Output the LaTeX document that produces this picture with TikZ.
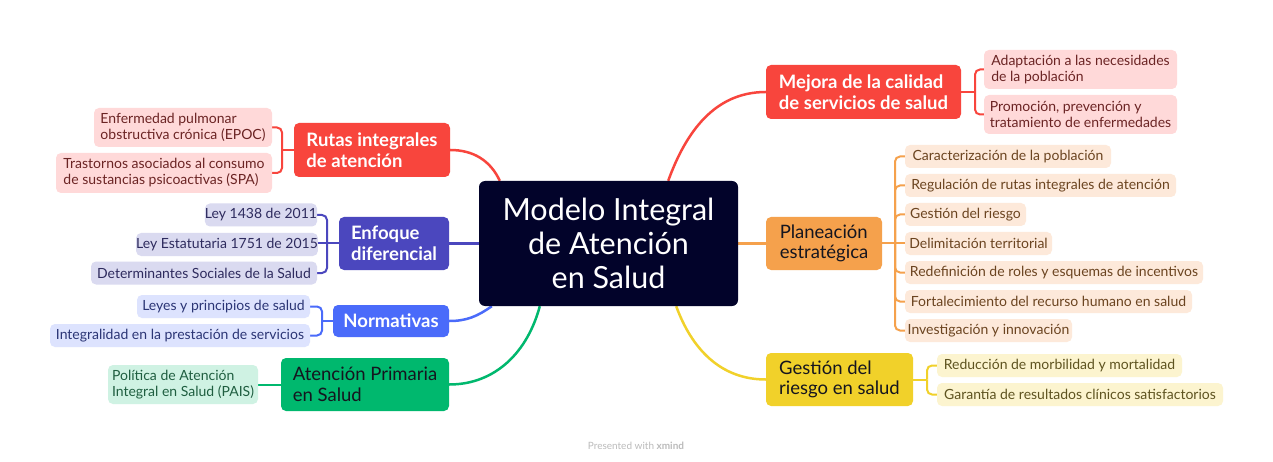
\documentclass[tikz,border=0pt]{standalone}
\usepackage{fontspec}
\setmainfont{Lato}
\pgfdeclarelayer{background}
\pgfsetlayers{background,main}
\definecolor{cnavy}{HTML}{02032A}
\definecolor{cred}{HTML}{F8453D}
\definecolor{cindigo}{HTML}{4B47BE}
\definecolor{cblue}{HTML}{4A6BFA}
\definecolor{cgreen}{HTML}{00B86E}
\definecolor{corange}{HTML}{F5A14C}
\definecolor{cyellow}{HTML}{F1D12A}
\definecolor{fred}{HTML}{FFD9D9}
\definecolor{find}{HTML}{DADAF0}
\definecolor{fblue}{HTML}{DDE3FE}
\definecolor{fgreen}{HTML}{CFF2E3}
\definecolor{forange}{HTML}{FDE9DA}
\definecolor{fyellow}{HTML}{FCF4CF}
\definecolor{tred}{HTML}{6B2424}
\definecolor{tind}{HTML}{2E2B5E}
\definecolor{tblue}{HTML}{2B3575}
\definecolor{tgreen}{HTML}{1F5E40}
\definecolor{torange}{HTML}{6B4420}
\definecolor{tyellow}{HTML}{5E5320}
\definecolor{tdark}{HTML}{15151F}
\definecolor{cfoot}{HTML}{BBBBBB}
\begin{document}
\begin{tikzpicture}[x=1pt,y=1pt,
  central/.style={fill=cnavy, rounded corners=6pt, text=white, align=center,
    minimum width=259pt, minimum height=125pt, inner sep=0pt,
    font=\fontsize{30.5}{34}\selectfont},
  topic/.style={rounded corners=5pt, inner sep=0pt, align=left,
    font=\fontsize{18.5}{20.5}\selectfont},
  topicw/.style={topic, text=white, font=\fontsize{18.5}{20.5}\selectfont\bfseries},
  sub/.style={rounded corners=5pt, inner sep=0pt, align=left,
    font=\fontsize{14}{16}\selectfont},
  conn/.style={line width=2.5pt},
  br/.style={line width=2pt},
]
\useasboundingbox (0,0) rectangle (1273,-462);

% central
\node[central] (c) at (608.5,-243.5) {Modelo Integral\\de Atención\\en Salud};

% main topics
\node[topicw, fill=cred, minimum width=156pt, minimum height=54pt] (rutas) at (372,-150) {Rutas integrales\\de atención};
\node[topicw, fill=cindigo, minimum width=110pt, minimum height=53pt] (enfoque) at (394,-243.5) {Enfoque\\diferencial};
\node[topicw, fill=cblue, minimum width=116pt, minimum height=32pt] (norm) at (391,-321) {Normativas};
\node[topic, fill=cgreen, text=tdark, minimum width=168pt, minimum height=53pt] (aps) at (365,-384.5) {Atención Primaria\\en Salud};
\node[topicw, fill=cred, minimum width=195pt, minimum height=54pt] (mejora) at (863.5,-92) {Mejora de la calidad\\de servicios de salud};
\node[topic, fill=corange, text=tdark, minimum width=116pt, minimum height=53pt] (plan) at (824,-243.5) {Planeación\\estratégica};
\node[topic, fill=cyellow, text=tdark, minimum width=147pt, minimum height=53pt] (gestion) at (839.5,-379.5) {Gestión del\\riesgo en salud};

% left subtopics
\node[sub, fill=fred, text=tred, minimum width=178pt, minimum height=39pt] (epoc) at (183,-127.5) {Enfermedad pulmonar\\obstructiva crónica (EPOC)};
\node[sub, fill=fred, text=tred, minimum width=216pt, minimum height=40pt] (spa) at (164,-173) {Trastornos asociados al consumo\\de sustancias psicoactivas (SPA)};
\node[sub, fill=find, text=tind, minimum width=112pt, minimum height=23pt] (l1438) at (261,-215) {Ley 1438 de 2011};
\node[sub, fill=find, text=tind, minimum width=180pt, minimum height=23pt] (l1751) at (227,-244.5) {Ley Estatutaria 1751 de 2015};
\node[sub, fill=find, text=tind, minimum width=226pt, minimum height=23pt] (dss) at (204,-273) {Determinantes Sociales de la Salud};
\node[sub, fill=fblue, text=tblue, minimum width=173pt, minimum height=23pt] (leyes) at (223.5,-306.5) {Leyes y principios de salud};
\node[sub, fill=fblue, text=tblue, minimum width=260pt, minimum height=23pt] (integ) at (180,-335.5) {Integralidad en la prestación de servicios};
\node[sub, fill=fgreen, text=tgreen, minimum width=150pt, minimum height=39pt] (pais) at (183,-384.5) {Política de Atención\\Integral en Salud (PAIS)};

% right subtopics
\node[sub, fill=fred, text=tred, minimum width=193pt, minimum height=39pt] (adapt) at (1080.5,-69.5) {Adaptación a las necesidades\\de la población};
\node[sub, fill=fred, text=tred, minimum width=193pt, minimum height=39pt] (promo) at (1080.5,-114.5) {Promoción, prevención y\\tratamiento de enfermedades};
\node[sub, fill=forange, text=torange, minimum width=206pt, minimum height=23pt] (p1) at (1008,-156.5) {Caracterización de la población};
\node[sub, fill=forange, text=torange, minimum width=271pt, minimum height=23pt] (p2) at (1040.5,-185.5) {Regulación de rutas integrales de atención};
\node[sub, fill=forange, text=torange, minimum width=121pt, minimum height=23pt] (p3) at (965.5,-214.5) {Gestión del riesgo};
\node[sub, fill=forange, text=torange, minimum width=147pt, minimum height=23pt] (p4) at (978.5,-243.5) {Delimitación territorial};
\node[sub, fill=forange, text=torange, minimum width=298pt, minimum height=23pt] (p5) at (1054,-272.5) {Redefinición de roles y esquemas de incentivos};
\node[sub, fill=forange, text=torange, minimum width=287pt, minimum height=23pt] (p6) at (1048.5,-301.5) {Fortalecimiento del recurso humano en salud};
\node[sub, fill=forange, text=torange, minimum width=167pt, minimum height=23pt] (p7) at (988.5,-330.5) {Investigación y innovación};
\node[sub, fill=fyellow, text=tyellow, minimum width=245pt, minimum height=23pt] (g1) at (1059.5,-365.5) {Reducción de morbilidad y mortalidad};
\node[sub, fill=fyellow, text=tyellow, minimum width=286pt, minimum height=23pt] (g2) at (1080,-394.5) {Garantía de resultados clínicos satisfactorios};

% footer
\node[text=cfoot, font=\fontsize{10}{12}\selectfont] (foot) at (636,-446) {Presented with \textbf{xmind}};

% junctions
\coordinate (rutasJ) at (282,-150);
\coordinate (enfJ) at (327,-243.5);
\coordinate (normJ) at (322,-321);
\coordinate (mejJ) at (975,-92);
\coordinate (planJ) at (895,-243.5);
\coordinate (gesJ) at (927,-379.5);

\begin{pgfonlayer}{background}
\fill[white] (0,0) rectangle (1273,-462);
% center connectors
\draw[conn, cred] (rutas.east) to[out=0,in=115] ([xshift=21pt]c.north west);
\draw[conn, cindigo] (enfoque.east) -- (c.west);
\draw[conn, cblue] (norm.east) to[out=0,in=215] ([xshift=13pt]c.south west);
\draw[conn, cgreen] (aps.east) to[out=0,in=255] ([xshift=61pt]c.south west);
\draw[conn, cred] (mejora.west) to[out=180,in=70] ([xshift=-70pt]c.north east);
\draw[conn, corange] (c.east) -- (plan.west);
\draw[conn, cyellow] (gestion.west) to[out=180,in=290] ([xshift=-62pt]c.south east);

% brackets
\draw[br, cred] (rutas.west) -- (rutasJ);
\draw[br, cred, rounded corners=5pt] (rutasJ) |- (epoc.east);
\draw[br, cred, rounded corners=5pt] (rutasJ) |- (spa.east);

\draw[br, cindigo] (enfoque.west) -- (enfJ);
\draw[br, cindigo, rounded corners=5pt] (enfJ) |- (l1438.east);
\draw[br, cindigo] (enfJ) -- (l1751.east |- enfJ);
\draw[br, cindigo, rounded corners=5pt] (enfJ) |- (dss.east);

\draw[br, cblue] (norm.west) -- (normJ);
\draw[br, cblue, rounded corners=5pt] (normJ) |- (leyes.east);
\draw[br, cblue, rounded corners=5pt] (normJ) |- (integ.east);

\draw[br, cgreen] (aps.west) -- (pais.east);

\draw[br, cred] (mejora.east) -- (mejJ);
\draw[br, cred, rounded corners=5pt] (mejJ) |- (adapt.west);
\draw[br, cred, rounded corners=5pt] (mejJ) |- (promo.west);

\draw[br, corange] (plan.east) -- (planJ);
\foreach \n in {p1,p2,p3,p5,p6,p7}
  \draw[br, corange, rounded corners=5pt] (planJ) |- (\n.west);
\draw[br, corange] (planJ) -- (p4.west);

\draw[br, cyellow] (gestion.east) -- (gesJ);
\draw[br, cyellow, rounded corners=5pt] (gesJ) |- (g1.west);
\draw[br, cyellow, rounded corners=5pt] (gesJ) |- (g2.west);
\end{pgfonlayer}
\end{tikzpicture}
\end{document}
